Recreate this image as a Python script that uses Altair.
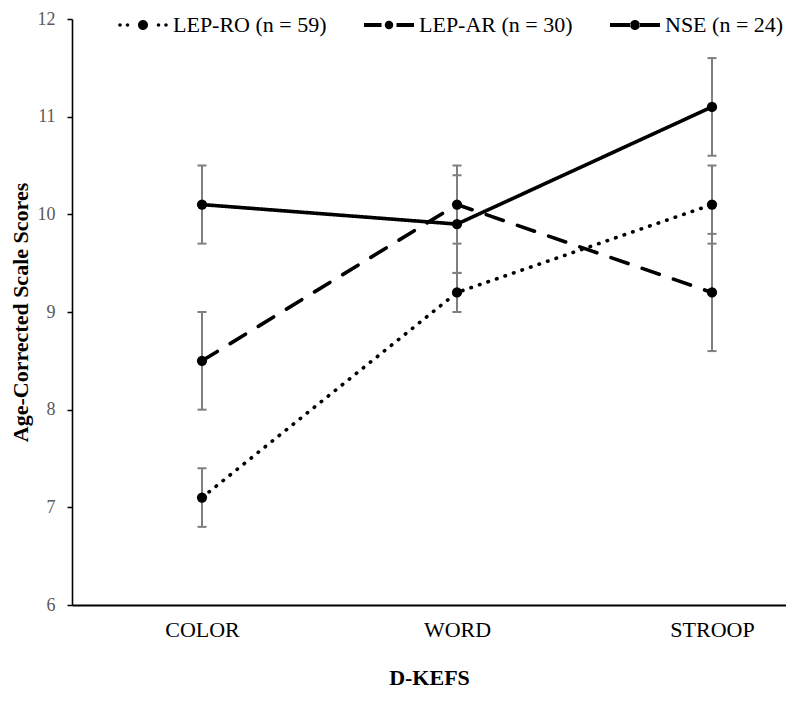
import altair as alt
import pandas as pd

# ---- data ----
categories = ["COLOR", "WORD", "STROOP"]
groups = ["LEP-RO (n = 59)", "LEP-AR (n = 30)", "NSE (n = 24)"]

lep_ro_mean = [7.1, 9.2, 10.1]
lep_ro_low = [6.8, 9.0, 9.7]
lep_ro_high = [7.4, 9.4, 10.5]

lep_ar_mean = [8.5, 10.1, 9.2]
lep_ar_low = [8.0, 9.7, 8.6]
lep_ar_high = [9.0, 10.5, 9.8]

nse_mean = [10.1, 9.9, 11.1]
nse_low = [9.7, 9.4, 10.6]
nse_high = [10.5, 10.4, 11.6]

y_ticks = [6, 7, 8, 9, 10, 11, 12]

series = [
    (groups[0], lep_ro_mean, lep_ro_low, lep_ro_high),
    (groups[1], lep_ar_mean, lep_ar_low, lep_ar_high),
    (groups[2], nse_mean, nse_low, nse_high),
]
rows = []
for g, m, lo, hi in series:
    for i, c in enumerate(categories):
        rows.append({"group": g, "dash": g, "idx": i, "cat": c,
                     "mean": m[i], "lo": lo[i], "hi": hi[i]})
df = pd.DataFrame(rows)

FONT = "Liberation Serif"

# line dash styles per group
dash_style = {groups[0]: [0.5, 8.5], groups[1]: [18, 15], groups[2]: [1, 0]}
dash_domain = sorted(groups)  # different order than legend domain (keeps legends separate)

# ---- legend symbol shapes (line + marker), unit coordinates ----
def circle(cx, r):
    return f"M{cx - r},0A{r},{r} 0 1,0 {cx + r},0A{r},{r} 0 1,0 {cx - r},0Z"

def rect(x0, x1, h):
    return f"M{x0},{-h}L{x1},{-h}L{x1},{h}L{x0},{h}Z"

sym_dotted = " ".join([circle(-0.92, 0.07), circle(-0.62, 0.07), circle(0, 0.2),
                       circle(0.62, 0.07), circle(0.92, 0.07)])
sym_dashed = " ".join([rect(-1, -0.3, 0.08), circle(0, 0.17), rect(0.3, 1, 0.08)])
sym_solid = " ".join([rect(-1, -0.18, 0.08), circle(0, 0.2), rect(0.18, 1, 0.08)])

x_enc = alt.X(
    "idx:Q",
    scale=alt.Scale(domain=[-0.5098, 2.2902], nice=False, zero=False),
    axis=alt.Axis(
        values=[0, 1, 2],
        labelExpr=f"{categories}[datum.value]",
        grid=False,
        ticks=False,
        domainColor="black",
        domainWidth=1.8,
        labelFont=FONT,
        labelFontSize=22,
        labelColor="black",
        labelPadding=14,
        title="D-KEFS",
        titleFont=FONT,
        titleFontSize=22,
        titleFontWeight="bold",
        titleColor="black",
        titlePadding=27,
    ),
)

y_scale = alt.Scale(domain=[6, 12], nice=False, zero=False)
y_axis = alt.Axis(
    values=y_ticks,
    format="d",
    grid=False,
    domainColor="black",
    domainWidth=1.6,
    tickColor="black",
    tickWidth=1.5,
    tickSize=5,
    labelFont=FONT,
    labelFontSize=18,
    labelColor="#595959",
    labelPadding=12,
    title="Age-Corrected Scale Scores",
    titleFont=FONT,
    titleFontSize=22,
    titleFontWeight="bold",
    titleColor="black",
    titlePadding=5,
)

base = alt.Chart(df)

err = base.mark_rule(color="#7f7f7f", strokeWidth=2, opacity=1).encode(
    x=x_enc, y=alt.Y("lo:Q", scale=y_scale, axis=y_axis), y2="hi:Q"
)
cap_lo = base.mark_tick(orient="horizontal", color="#7f7f7f", thickness=2, size=9, opacity=1).encode(
    x="idx:Q", y="lo:Q"
)
cap_hi = base.mark_tick(orient="horizontal", color="#7f7f7f", thickness=2, size=9, opacity=1).encode(
    x="idx:Q", y="hi:Q"
)

lines = base.mark_line(color="black", strokeWidth=3.6, strokeCap="round").encode(
    x="idx:Q",
    y="mean:Q",
    strokeDash=alt.StrokeDash(
        "dash:N",
        scale=alt.Scale(domain=dash_domain, range=[dash_style[g] for g in dash_domain]),
        legend=None,
    ),
)

points = base.mark_circle(color="black", size=105, opacity=1).encode(
    x="idx:Q", y="mean:Q"
)

legend_layer = base.mark_point(filled=True, color="black", opacity=1, size=10).encode(
    x="idx:Q",
    y="mean:Q",
    shape=alt.Shape(
        "group:N",
        scale=alt.Scale(domain=groups, range=[sym_dotted, sym_dashed, sym_solid]),
        legend=alt.Legend(
            title=None,
            orient="none",
            legendX=46,
            legendY=-19,
            direction="horizontal",
            columns=3,
            columnPadding=37,
            padding=0,
            symbolSize=2500,
            symbolStrokeWidth=0,
            symbolOpacity=1,
            symbolFillColor="black",
            labelFont=FONT,
            labelFontSize=22,
            labelColor="black",
            labelOffset=5,
            labelLimit=400,
        ),
    ),
).transform_filter("false")

chart = (
    alt.layer(err, cap_lo, cap_hi, lines, points, legend_layer)
    .properties(
        width=714,
        height=586,
        padding={"left": 64, "top": 11, "right": 0, "bottom": 86},
        autosize=alt.AutoSizeParams(type="none"),
        background="white",
    )
    .configure(font=FONT, style={"guide-label": {"font": FONT}})
    .configure_view(stroke="transparent")
    .configure_legend(labelFont=FONT, labelFontSize=22, labelColor="black")
)

chart.save("out.html", embed_options={"renderer": "svg", "actions": False})
